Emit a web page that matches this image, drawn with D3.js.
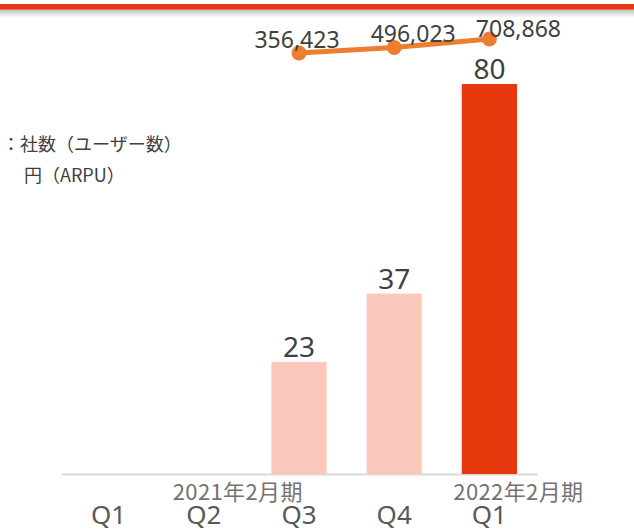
<!DOCTYPE html>
<html><head><meta charset="utf-8">
<script src="https://cdn.jsdelivr.net/npm/d3@7"></script>
<style>html,body{margin:0;padding:0;background:#fff;}svg{display:block;}</style>
</head><body>
<svg id="c" width="634" height="529"></svg>
<script>
// ---- data ----
const categories = ["2021-Q1","2021-Q2","2021-Q3","2021-Q4","2022-Q1"];
const quarterLabels = ["Q1","Q2","Q3","Q4","Q1"];
const userCounts = [null, null, 23, 37, 80];
const arpu = [null, null, 356423, 496023, 708868];
const fiscalYears = [{cat:"2021-Q2", label:"2021年2月期"}, {cat:"2022-Q1", label:"2022年2月期"}];
const legendLines = ["：社数（ユーザー数）", "円（ARPU）"];

const svg = d3.select("#c");
const NUM = "'Noto Sans','Open Sans',sans-serif";
const JP = "'Noto Sans CJK JP','Noto Sans',sans-serif";

// header band + shadow
const defs = svg.append("defs");
const g1 = defs.append("linearGradient").attr("id","sh").attr("x1",0).attr("x2",0).attr("y1",0).attr("y2",1);
g1.append("stop").attr("offset","0%").attr("stop-color","#bdbdbd");
g1.append("stop").attr("offset","100%").attr("stop-color","#ffffff");
svg.append("rect").attr("x",0).attr("y",9).attr("width",634).attr("height",9).attr("fill","url(#sh)");
svg.append("rect").attr("x",0).attr("y",4).attr("width",634).attr("height",5.5).attr("fill","#E8380D");

// scales
const x = d3.scaleBand().domain(categories).range([61, 537]).paddingInner(0.42).paddingOuter(0.21);
const y = d3.scaleLinear().domain([0, 80]).range([474, 84]);
const yLine = d3.scaleLinear().domain([0, 800000]).range([67.2, 35.4]);

// axis line
const axis = d3.axisBottom(x).tickSize(0).tickFormat((d,i)=>quarterLabels[i]).tickPadding(32);
const ax = svg.append("g").attr("transform","translate(0,474)").call(axis);
ax.select(".domain").attr("stroke","#D9D9D9").attr("stroke-width",2);
ax.selectAll("text").attr("font-family",NUM).attr("font-size",26).attr("fill","#595959");

// fiscal year labels
svg.selectAll(".fy").data(fiscalYears).join("text")
  .attr("x",(d,i)=> x(d.cat)+x.bandwidth()/2 + (i===0?34:29))
  .attr("y",500).attr("text-anchor","middle")
  .attr("font-family",JP).attr("font-size",22).attr("letter-spacing",0.4).attr("fill","#767171")
  .text(d=>d.label);

// bars
const barData = categories.map((c,i)=>({c, v:userCounts[i], i})).filter(d=>d.v!=null);
svg.selectAll(".bar").data(barData).join("rect")
  .attr("x",d=>x(d.c)).attr("width",x.bandwidth())
  .attr("y",d=>y(d.v)).attr("height",d=>y(0)-y(d.v))
  .attr("fill",d=>d.i===categories.length-1 ? "#E8380D" : "#FBC9BC");
svg.selectAll(".bl").data(barData).join("text")
  .attr("x",d=>x(d.c)+x.bandwidth()/2).attr("y",d=>y(d.v)-5)
  .attr("text-anchor","middle").attr("font-family",NUM).attr("font-size",28).attr("fill","#404040")
  .text(d=>d.v);

// line
const lineData = categories.map((c,i)=>({c, v:arpu[i]})).filter(d=>d.v!=null);
const cx = d=>x(d.c)+x.bandwidth()/2;
svg.append("path").datum(lineData)
  .attr("d", d3.line().x(cx).y(d=>yLine(d.v)))
  .attr("fill","none").attr("stroke","#ED7D31").attr("stroke-width",5);
svg.selectAll(".dot").data(lineData).join("circle")
  .attr("cx",cx).attr("cy",d=>yLine(d.v)).attr("r",7.5).attr("fill","#ED7D31");
const ldx = [-2, 19, 29], ldy = [-5, -5, -2];
svg.selectAll(".ll").data(lineData).join("text")
  .attr("x",(d,i)=>cx(d)+ldx[i]).attr("y",(d,i)=>yLine(d.v)+ldy[i])
  .attr("text-anchor","middle").attr("font-family",NUM).attr("font-size",23).attr("fill","#404040")
  .text(d=>d3.format(",")(d.v));

// legend text
svg.selectAll(".lg").data(legendLines).join("text")
  .attr("x",(d,i)=> i===0 ? 2 : 24).attr("y",(d,i)=>151+i*31)
  .attr("font-family",JP).attr("font-size",18).attr("fill","#404040")
  .text(d=>d);
</script>
</body></html>
